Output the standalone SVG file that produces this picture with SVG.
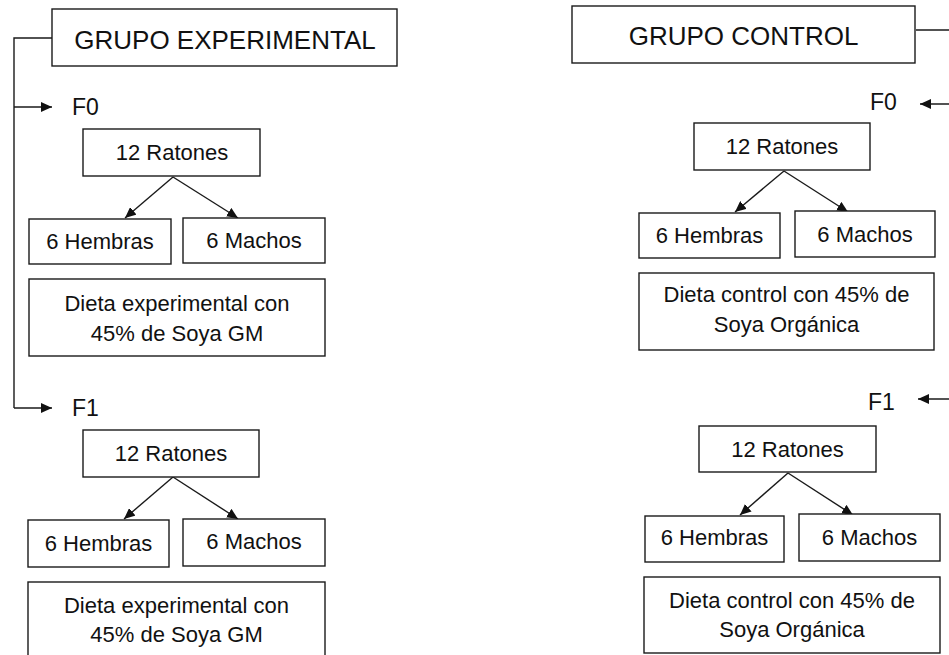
<svg xmlns="http://www.w3.org/2000/svg" width="949" height="655" viewBox="0 0 949 655">
<style>
  .box{fill:#fff;stroke:#1a1a1a;stroke-width:1.4}
  .t{font-family:"Liberation Sans",Arial,sans-serif;font-size:22px;fill:#111;text-anchor:middle}
  .title{font-family:"Liberation Sans",Arial,sans-serif;font-size:26px;fill:#111;text-anchor:middle}
  .f{font-family:"Liberation Sans",Arial,sans-serif;font-size:23px;fill:#111}
  .c{fill:none;stroke:#1a1a1a;stroke-width:1.4}
</style>
<defs>
  <marker id="ah" markerUnits="userSpaceOnUse" markerWidth="12" markerHeight="10" refX="11" refY="5" orient="auto">
    <path d="M0,0 L11,5 L0,10 Z" fill="#111"/>
  </marker>
</defs>
<rect width="949" height="655" fill="#fff"/>

<g id="connectors">
  <!-- left bracket -->
  <path class="c" d="M52,38 H14 V408"/>
  <line class="c" x1="14" y1="107" x2="52" y2="107" marker-end="url(#ah)"/>
  <line class="c" x1="14" y1="408" x2="52" y2="408" marker-end="url(#ah)"/>
  <!-- right bracket (vertical beyond edge) -->
  <path class="c" d="M916,30 H956 V399"/>
  <line class="c" x1="956" y1="104" x2="920" y2="104" marker-end="url(#ah)"/>
  <line class="c" x1="956" y1="399" x2="918" y2="399" marker-end="url(#ah)"/>
  <!-- left F0 split -->
  <line class="c" x1="173" y1="177" x2="125" y2="218" marker-end="url(#ah)"/>
  <line class="c" x1="173" y1="177" x2="238" y2="218" marker-end="url(#ah)"/>
  <!-- left F1 split -->
  <line class="c" x1="173" y1="477" x2="124" y2="519" marker-end="url(#ah)"/>
  <line class="c" x1="173" y1="477" x2="238" y2="519" marker-end="url(#ah)"/>
  <!-- right F0 split -->
  <line class="c" x1="784" y1="171" x2="735" y2="212" marker-end="url(#ah)"/>
  <line class="c" x1="784" y1="171" x2="848" y2="212" marker-end="url(#ah)"/>
  <!-- right F1 split -->
  <line class="c" x1="788" y1="473" x2="740" y2="515" marker-end="url(#ah)"/>
  <line class="c" x1="788" y1="473" x2="853" y2="515" marker-end="url(#ah)"/>
</g>

<!-- Left group -->
<g id="grupo-experimental">
  <rect class="box" x="52" y="9" width="345" height="57"/>
  <text class="title" x="225" y="49">GRUPO EXPERIMENTAL</text>
</g>
<g id="exp-f0-label"><text class="f" x="72" y="115">F0</text></g>
<g id="exp-f0-ratones">
  <rect class="box" x="83" y="129" width="177" height="47"/>
  <text class="t" x="172" y="160">12 Ratones</text>
</g>
<g id="exp-f0-hembras">
  <rect class="box" x="29" y="219" width="142" height="45"/>
  <text class="t" x="100" y="249">6 Hembras</text>
</g>
<g id="exp-f0-machos">
  <rect class="box" x="183" y="218" width="142" height="45"/>
  <text class="t" x="254" y="248">6 Machos</text>
</g>
<g id="exp-f0-dieta">
  <rect class="box" x="29" y="279" width="296" height="77"/>
  <text class="t" x="177" y="311">Dieta experimental con</text>
  <text class="t" x="177" y="341">45% de Soya GM</text>
</g>
<g id="exp-f1-label"><text class="f" x="72" y="416">F1</text></g>
<g id="exp-f1-ratones">
  <rect class="box" x="83" y="430" width="176" height="47"/>
  <text class="t" x="171" y="461">12 Ratones</text>
</g>
<g id="exp-f1-hembras">
  <rect class="box" x="28" y="520" width="141" height="47"/>
  <text class="t" x="98.5" y="551">6 Hembras</text>
</g>
<g id="exp-f1-machos">
  <rect class="box" x="183" y="519" width="142" height="47"/>
  <text class="t" x="254" y="549">6 Machos</text>
</g>
<g id="exp-f1-dieta">
  <rect class="box" x="28" y="582" width="297" height="80"/>
  <text class="t" x="176.5" y="613">Dieta experimental con</text>
  <text class="t" x="176.5" y="642">45% de Soya GM</text>
</g>

<!-- Right group -->
<g id="grupo-control">
  <rect class="box" x="572" y="6" width="343" height="57"/>
  <text class="title" x="743.5" y="45">GRUPO CONTROL</text>
</g>
<g id="ctl-f0-label"><text class="f" x="870" y="110">F0</text></g>
<g id="ctl-f0-ratones">
  <rect class="box" x="694" y="123" width="176" height="47"/>
  <text class="t" x="782" y="154">12 Ratones</text>
</g>
<g id="ctl-f0-hembras">
  <rect class="box" x="639" y="213" width="141" height="45"/>
  <text class="t" x="709.5" y="243">6 Hembras</text>
</g>
<g id="ctl-f0-machos">
  <rect class="box" x="795" y="211" width="140" height="46"/>
  <text class="t" x="865" y="242">6 Machos</text>
</g>
<g id="ctl-f0-dieta">
  <rect class="box" x="639" y="273" width="295" height="77"/>
  <text class="t" x="786.5" y="302">Dieta control con 45% de</text>
  <text class="t" x="786.5" y="332">Soya Orgánica</text>
</g>
<g id="ctl-f1-label"><text class="f" x="868" y="410">F1</text></g>
<g id="ctl-f1-ratones">
  <rect class="box" x="699" y="426" width="177" height="46"/>
  <text class="t" x="787.5" y="457">12 Ratones</text>
</g>
<g id="ctl-f1-hembras">
  <rect class="box" x="645" y="516" width="139" height="46"/>
  <text class="t" x="714.5" y="545">6 Hembras</text>
</g>
<g id="ctl-f1-machos">
  <rect class="box" x="799" y="514" width="141" height="47"/>
  <text class="t" x="869.5" y="545">6 Machos</text>
</g>
<g id="ctl-f1-dieta">
  <rect class="box" x="644" y="577" width="296" height="76"/>
  <text class="t" x="792" y="608">Dieta control con 45% de</text>
  <text class="t" x="792" y="637">Soya Orgánica</text>
</g>
</svg>
